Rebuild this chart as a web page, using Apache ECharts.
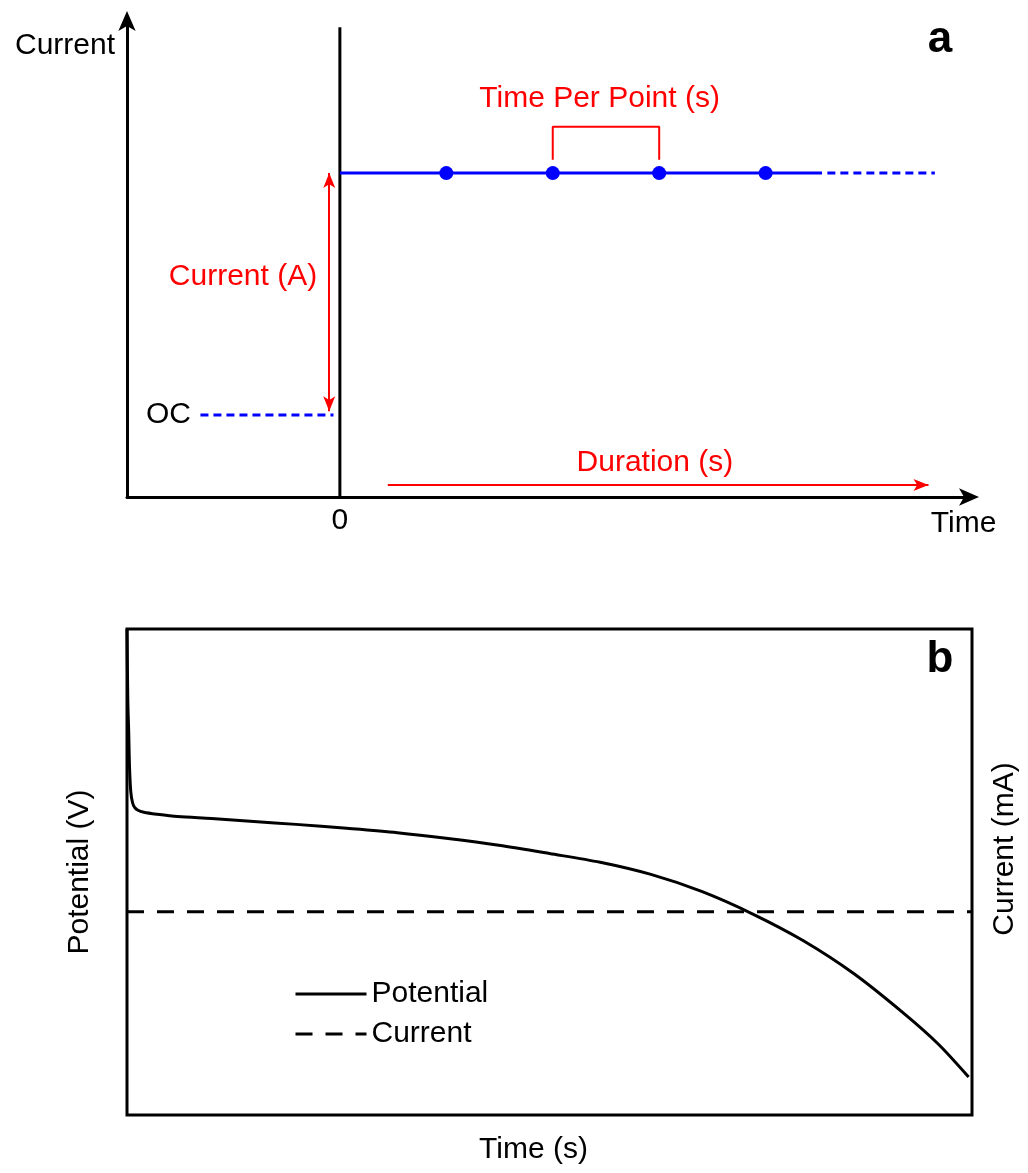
<!DOCTYPE html>
<html>
<head>
<meta charset="utf-8">
<script src="https://cdn.jsdelivr.net/npm/echarts@6/dist/echarts.min.js"></script>
<style>
html,body{margin:0;padding:0;background:#fff;}
#chart{width:1028px;height:1173px;}
</style>
</head>
<body>
<div id="chart"></div>
<script>
// ---------- Panel a (schematic, arbitrary units) ----------
const aZeroLine = [[0, 0], [0, 9.85]];
const aOcLine = [[-1.31, 1.72], [-0.06, 1.72]];
const aStepSolid = [[0, 6.79], [4.53, 6.79]];
const aStepDashed = [[4.58, 6.79], [5.59, 6.79]];
const aPoints = [[1, 6.79], [2, 6.79], [3, 6.79], [4, 6.79]];
const aBracket = [[2, 7.07], [2, 7.76], [3, 7.76], [3, 7.07]];
const aCurrentArrow = [[-0.10, 6.79], [-0.10, 1.80]];
const aDurationArrow = [[0.45, 0.25], [5.53, 0.25]];
const aRedLabels = [[-0.91, 4.61, 'Current (A)'], [2.44, 8.34, 'Time Per Point (s)'], [2.96, 0.71, 'Duration (s)']];
const aBlackLabels = [[-1.61, 1.72, 'OC'], [5.86, -0.57, 'Time']];

// ---------- Panel b ----------
const bTime = [0, 0.1, 0.2, 0.3, 0.45, 0.65, 0.9, 1.3, 2, 3.5, 6, 10, 15, 20, 26, 32, 38, 44, 50, 56, 62, 68, 74, 80, 86, 92, 96, 99.6];
const bPotential = [100, 85, 79, 71.5, 66.5, 64.3, 63.3, 62.7, 62.3, 61.9, 61.4, 61.0, 60.4, 59.8, 59.0, 58.1, 56.9, 55.5, 53.8, 52.0, 49.5, 46.0, 41.4, 35.9, 29.1, 20.8, 14.6, 7.8];
const bCurrentLevel = 41.8;
const bTimeRange = [0, 100];

const FONT = "'Liberation Sans', Arial, Helvetica, sans-serif";
const RED = '#ff0000';
const BLUE = '#0000ff';

const chart = echarts.init(document.getElementById('chart'), null, {renderer: 'canvas'});

const hidden = {show: false};
const labelSeries = (name, data, color) => ({
  name, type: 'scatter', xAxisIndex: 0, yAxisIndex: 0, data, clip: false,
  symbolSize: 2, itemStyle: {color: 'rgba(0,0,0,0)', opacity: 1}, silent: true, z: 5,
  label: {show: true, position: 'inside', formatter: p => p.value[2], color, opacity: 1, fontSize: 30, fontFamily: FONT}
});
const seg = (name, data, color, width, type, xi, yi) => ({
  name, type: 'line', xAxisIndex: xi || 0, yAxisIndex: yi || 0, data,
  symbol: 'none', silent: true,
  lineStyle: {color, width, type: type || 'solid', cap: 'butt'}
});

const option = {
  animation: false,
  textStyle: {fontFamily: FONT},
  grid: [
    {left: 127, right: 58, top: 20, bottom: 676},
    {left: 127, right: 52, top: 629, bottom: 58, show: true, borderColor: '#000', borderWidth: 3, backgroundColor: 'transparent'}
  ],
  xAxis: [
    {
      gridIndex: 0, type: 'value', min: -2, max: 5.92, interval: 2,
      axisLine: {show: true, onZero: false, lineStyle: {color: '#000', width: 3}, symbol: ['none', 'arrow'], symbolSize: [13, 20], symbolOffset: [0, 9]},
      axisTick: hidden, splitLine: hidden,
      axisLabel: {formatter: v => (v === 0 ? '0' : ''), fontSize: 30, color: '#000', margin: 9, fontFamily: FONT}
    },
    {
      gridIndex: 1, type: 'value', min: bTimeRange[0], max: bTimeRange[1],
      axisLine: hidden, axisTick: hidden, axisLabel: hidden, splitLine: hidden,
      name: 'Time (s)', nameLocation: 'middle', nameGap: 20,
      nameTextStyle: {fontSize: 30, color: '#000', padding: [0, 32, 0, 0], fontFamily: FONT}
    }
  ],
  yAxis: [
    {
      gridIndex: 0, type: 'value', min: 0, max: 10,
      axisLine: {show: true, onZero: false, lineStyle: {color: '#000', width: 3}, symbol: ['none', 'arrow'], symbolSize: [13, 20], symbolOffset: [0, 9]},
      axisTick: hidden, axisLabel: hidden, splitLine: hidden,
      name: 'Current', nameLocation: 'end', nameGap: -26, nameMoveOverlap: false,
      nameTextStyle: {fontSize: 30, color: '#000', align: 'right', verticalAlign: 'middle', padding: [0, 12, 0, 0], fontFamily: FONT}
    },
    {
      gridIndex: 1, type: 'value', min: 0, max: 100, position: 'left',
      axisLine: hidden, axisTick: hidden, axisLabel: hidden, splitLine: hidden,
      name: 'Potential (V)', nameLocation: 'middle', nameGap: 32,
      nameTextStyle: {fontSize: 30, color: '#000', fontFamily: FONT}
    },
    {
      gridIndex: 1, type: 'value', min: 0, max: 100, position: 'right',
      axisLine: hidden, axisTick: hidden, axisLabel: hidden, splitLine: hidden,
      name: 'Current (mA)', nameLocation: 'middle', nameGap: 18,
      nameTextStyle: {fontSize: 30, color: '#000', padding: [0, 0, 0, 46], fontFamily: FONT}
    }
  ],
  legend: {
    data: ['Potential', 'Current'],
    orient: 'vertical', left: 289, top: 974, itemWidth: 71, itemHeight: 14, itemGap: 10,
    itemStyle: {opacity: 0},
    lineStyle: {width: 3},
    textStyle: {fontSize: 30, color: '#000', fontFamily: FONT},
    selectedMode: false
  },
  graphic: [
    {type: 'text', x: 940, y: 40, silent: true, style: {text: 'a', fontSize: 44, fontWeight: 'bold', fontFamily: FONT, fill: '#000', align: 'center', verticalAlign: 'middle'}},
    {type: 'text', x: 940, y: 660, silent: true, style: {text: 'b', fontSize: 44, fontWeight: 'bold', fontFamily: FONT, fill: '#000', align: 'center', verticalAlign: 'middle'}}
  ],
  series: [
    seg('zero', aZeroLine, '#000', 3),
    seg('oc', aOcLine, BLUE, 3, [8, 5]),
    seg('step', aStepSolid, BLUE, 3),
    seg('stepDashed', aStepDashed, BLUE, 3, [8, 5]),
    {
      name: 'points', type: 'scatter', xAxisIndex: 0, yAxisIndex: 0, data: aPoints,
      symbol: 'circle', symbolSize: 14, itemStyle: {color: BLUE, opacity: 1}, silent: true, z: 3
    },
    seg('bracket', aBracket, RED, 2),
    {
      name: 'arrows', type: 'line', xAxisIndex: 0, yAxisIndex: 0, data: [], silent: true,
      markLine: {
        silent: true, symbol: ['arrow', 'arrow'], symbolSize: [9, 15],
        lineStyle: {color: RED, width: 2, type: 'solid'}, label: {show: false},
        emphasis: {disabled: true},
        data: [
          [{coord: aCurrentArrow[0]}, {coord: aCurrentArrow[1]}],
          [{coord: aDurationArrow[0], symbol: 'none'}, {coord: aDurationArrow[1], symbol: 'arrow'}]
        ]
      }
    },
    labelSeries('redLabels', aRedLabels, RED),
    labelSeries('blackLabels', aBlackLabels, '#000'),
    {
      name: 'Potential', type: 'line', xAxisIndex: 1, yAxisIndex: 1,
      data: bTime.map((t, i) => [t, bPotential[i]]),
      symbol: 'none', smooth: 0.3, silent: true,
      lineStyle: {color: '#000', width: 3, join: 'round'}, itemStyle: {color: '#000'}
    },
    {
      name: 'Current', type: 'line', xAxisIndex: 1, yAxisIndex: 2,
      data: bTimeRange.map(t => [t, bCurrentLevel]),
      symbol: 'none', silent: true,
      lineStyle: {color: '#000', width: 3, type: [17, 13]}, itemStyle: {color: '#000'}
    }
  ]
};
chart.setOption(option);
</script>
</body>
</html>
